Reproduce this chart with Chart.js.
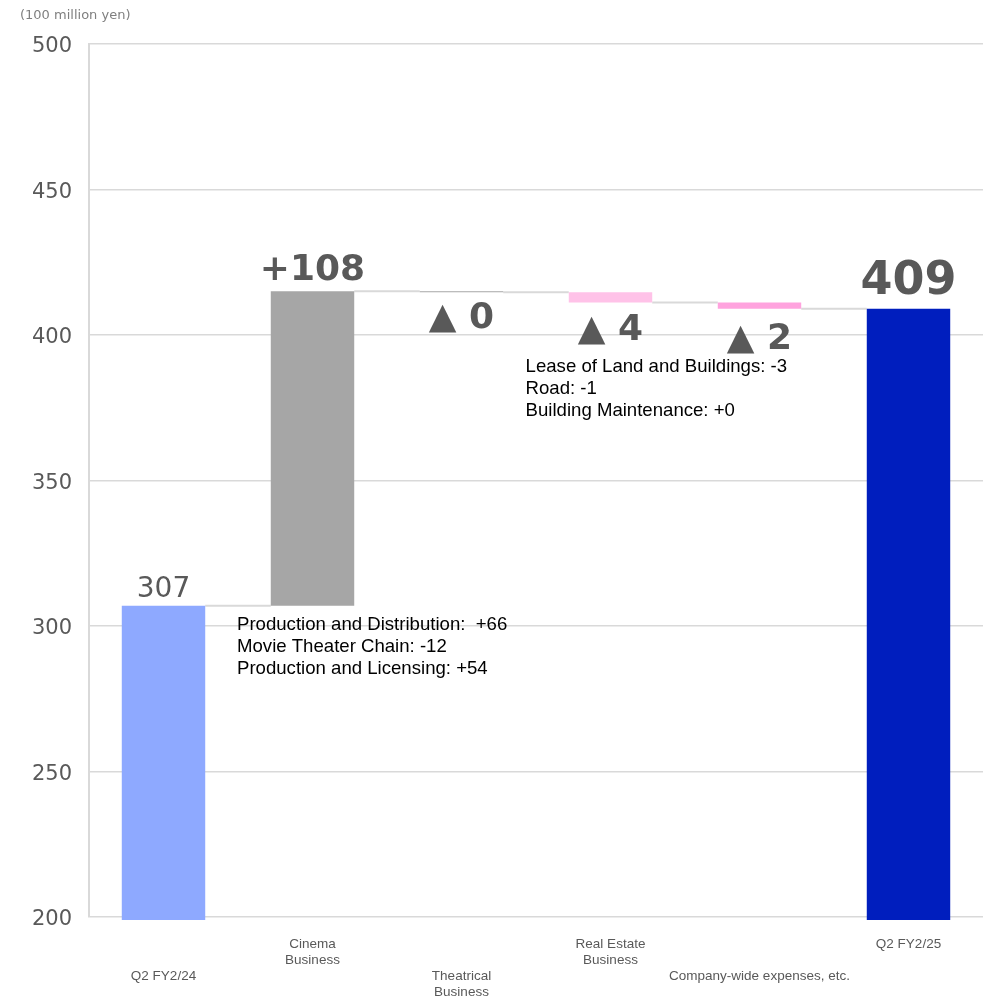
<!DOCTYPE html>
<html>
<head>
<meta charset="utf-8">
<script src="https://cdn.jsdelivr.net/npm/chart.js@4.4.1/dist/chart.umd.min.js"></script>
<style>
  html, body { margin: 0; padding: 0; background: #fff; }
  #wrap { width: 989px; height: 999px; position: relative; }
</style>
</head>
<body>
<div id="wrap"><canvas id="waterfall"></canvas></div>
<script>
// categories (multi-line, blank lines stagger them like the original)
const categories = [
    ['', '', 'Q2 FY2/24'],
    ['Cinema', 'Business'],
    ['', '', 'Theatrical', 'Business'],
    ['Real Estate', 'Business'],
    ['', '', 'Company-wide expenses, etc.'],
    ['Q2 FY2/25']
];
// waterfall: each bar goes from start to end (100 million yen)
const barStart = [0, 307, 415, 414.7, 411.2, 0];
const barEnd = [307, 415, 414.7, 411.2, 409, 409];
const valueLabels = ['307', '+108', '▲ 0', '▲ 4', '▲ 2', '409'];
const yTicks = [200, 250, 300, 350, 400, 450, 500];
const unitLabel = '(100 million yen)';

const cinemaNotes = [
    'Production and Distribution:  +66',
    'Movie Theater Chain: -12',
    'Production and Licensing: +54'
];
const realEstateNotes = [
    'Lease of Land and Buildings: -3',
    'Road: -1',
    'Building Maintenance: +0'
];

const barColors = ['#8EA9FF', '#A6A6A6', '#A6A6A6', '#FFC2E8', '#FFA3DE', '#001EBE'];
const labelFonts = [
    'normal 28px "DejaVu Sans"',
    'bold 36px "DejaVu Sans"',
    'bold 36px "DejaVu Sans"',
    'bold 36px "DejaVu Sans"',
    'bold 36px "DejaVu Sans"',
    'bold 46px "DejaVu Sans"'
];
const labelSizes = [28, 36, 36, 36, 36, 46];
const dropOffsets = [0, 0, 26, 28, 31, 0];

const waterfallPlugin = {
    id: 'waterfallExtras',
    beforeDatasetsDraw(chart) {
        // connector lines between bars
        const ctx = chart.ctx;
        const meta = chart.getDatasetMeta(0);
        const y = chart.scales.y;
        ctx.save();
        ctx.strokeStyle = '#D9D9D9';
        ctx.lineWidth = 2;
        for (let i = 0; i < meta.data.length - 1; i++) {
            const a = meta.data[i];
            const b = meta.data[i + 1];
            const py = y.getPixelForValue(barEnd[i]);
            ctx.beginPath();
            ctx.moveTo(a.x + a.width / 2, py);
            ctx.lineTo(b.x - b.width / 2, py);
            ctx.stroke();
        }
        ctx.restore();
    },
    afterDraw(chart) {
        const ctx = chart.ctx;
        const meta = chart.getDatasetMeta(0);
        const x = chart.scales.x;
        const y = chart.scales.y;
        ctx.save();

        // value labels
        ctx.fillStyle = '#595959';
        ctx.textAlign = 'center';
        ctx.textBaseline = 'middle';
        meta.data.forEach((bar, i) => {
            ctx.font = labelFonts[i];
            const top = y.getPixelForValue(Math.max(barStart[i], barEnd[i]));
            const bottom = y.getPixelForValue(Math.min(barStart[i], barEnd[i]));
            let ty;
            if (barEnd[i] >= barStart[i]) {
                ty = top - labelSizes[i] * 0.58;
            } else {
                ty = bottom + dropOffsets[i];
            }
            ctx.fillText(valueLabels[i], bar.x, ty);
        });

        // unit label
        ctx.font = '13px "DejaVu Sans"';
        ctx.fillStyle = '#7F7F7F';
        ctx.textAlign = 'left';
        ctx.fillText(unitLabel, 20, 16);

        // breakdown notes
        ctx.font = '18.6px "Liberation Sans", Arial';
        ctx.fillStyle = '#000';
        let nx = x.getPixelForValue(0.5);
        let ny = y.getPixelForValue(300.3);
        cinemaNotes.forEach((t, i) => ctx.fillText(t, nx - 1, ny + i * 22));
        nx = x.getPixelForValue(2.43);
        ny = y.getPixelForValue(389);
        realEstateNotes.forEach((t, i) => ctx.fillText(t, nx, ny + i * 22));

        ctx.restore();
    }
};

const ctx = document.getElementById('waterfall').getContext('2d');
new Chart(ctx, {
    type: 'bar',
    data: {
        labels: categories,
        datasets: [{
            data: barStart.map((s, i) => [s, barEnd[i]]),
            backgroundColor: barColors,
            borderWidth: 0,
            borderSkipped: false,
            categoryPercentage: 1,
            barPercentage: 0.56,
            clip: {left: 0, top: 0, right: 0, bottom: 3}
        }]
    },
    options: {
        responsive: true,
        maintainAspectRatio: false,
        animation: false,
        layout: {
            padding: {top: 44, right: 6, left: 0, bottom: 0}
        },
        plugins: {
            legend: {display: false},
            tooltip: {enabled: false},
            title: {display: false}
        },
        scales: {
            x: {
                grid: {display: false, drawTicks: false},
                border: {display: false},
                ticks: {
                    color: '#595959',
                    font: {family: '"Liberation Sans", Arial', size: 13.5, lineHeight: 1.2},
                    padding: 19,
                    maxRotation: 0,
                    autoSkip: false
                },
                afterFit(scale) { scale.height = 82; }
            },
            y: {
                min: 200,
                max: 500,
                grid: {color: '#D9D9D9', lineWidth: 1.5, drawTicks: false},
                border: {display: true, color: '#D9D9D9', width: 2},
                afterBuildTicks(scale) {
                    scale.ticks = yTicks.map(v => ({value: v}));
                },
                ticks: {
                    color: '#595959',
                    font: {family: '"DejaVu Sans"', size: 21},
                    padding: 17,
                    labelOffset: 3
                },
                afterFit(scale) { scale.width = 89; }
            }
        }
    },
    plugins: [waterfallPlugin]
});
</script>
</body>
</html>
